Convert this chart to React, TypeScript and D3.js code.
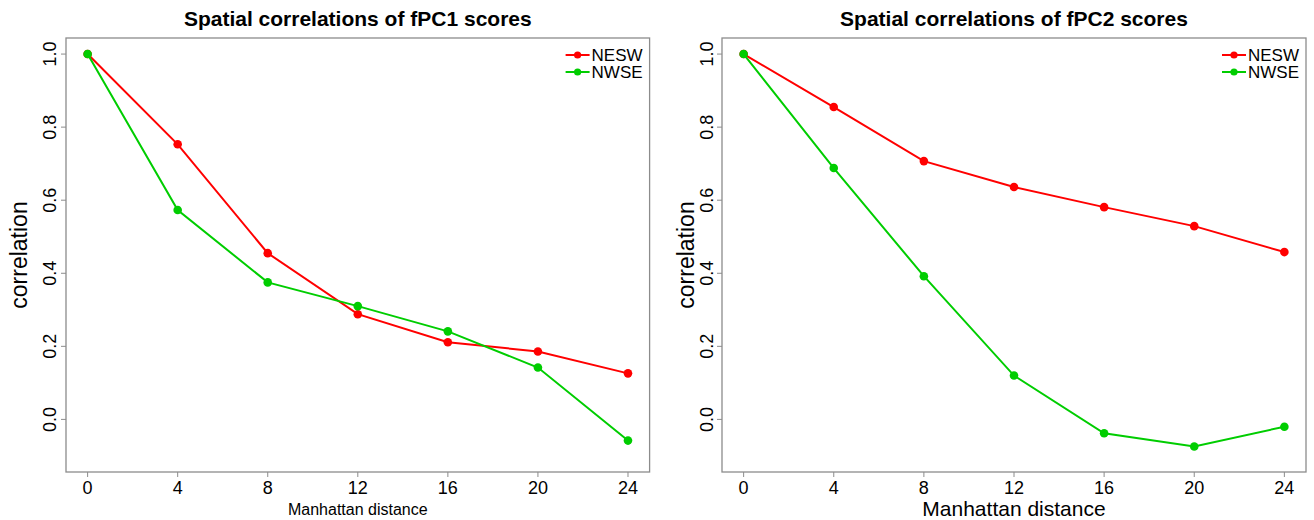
import React from "react";
import * as d3 from "d3";

const distances = [0, 4, 8, 12, 16, 20, 24];
const fpc1NESW = [1.0, 0.753, 0.455, 0.288, 0.211, 0.186, 0.126];
const fpc1NWSE = [1.0, 0.573, 0.375, 0.31, 0.241, 0.142, -0.058];
const fpc2NESW = [1.0, 0.855, 0.707, 0.636, 0.581, 0.529, 0.458];
const fpc2NWSE = [1.0, 0.688, 0.392, 0.12, -0.038, -0.074, -0.02];
const yTicks = [0.0, 0.2, 0.4, 0.6, 0.8, 1.0];
const xTicks = [0, 4, 8, 12, 16, 20, 24];
const seriesNames = ["NESW", "NWSE"];
const seriesColors = ["#ff0000", "#00cd00"];
const titles = ["Spatial correlations of fPC1 scores", "Spatial correlations of fPC2 scores"];

const FONT = "'Liberation Sans', Arial, Helvetica, sans-serif";

type PanelProps = {
  x0: number;
  x1: number;
  title: string;
  series: number[][];
  xTitleSize: number;
  yLabelX: number;
  yTitleX: number;
  xTitleY: number;
};

function Panel({ x0, x1, title, series, xTitleSize, yLabelX, yTitleX, xTitleY }: PanelProps) {
  const top = 38;
  const bottom = 472;
  const x = d3.scaleLinear().domain([-0.96, 24.96]).range([x0, x1]);
  const y = d3.scaleLinear().domain([-0.144, 1.044]).range([bottom, top]);
  const line = d3
    .line<number>()
    .x((_, i) => x(distances[i]))
    .y((d) => y(d));
  const cx = (x0 + x1) / 2;
  const axisColor = "#8c8c8c";
  return (
    <g>
      <text x={cx} y={26} textAnchor="middle" fontFamily={FONT} fontWeight="bold" fontSize={21} fill="#000">
        {title}
      </text>
      <rect x={x0} y={top} width={x1 - x0} height={bottom - top} fill="none" stroke={axisColor} strokeWidth={1.3} />
      {xTicks.map((t) => (
        <g key={"x" + t}>
          <line x1={x(t)} x2={x(t)} y1={bottom} y2={bottom + 5} stroke={axisColor} strokeWidth={1} />
          <text x={x(t)} y={494} textAnchor="middle" fontFamily={FONT} fontSize={18} fill="#000">
            {t}
          </text>
        </g>
      ))}
      {yTicks.map((t) => (
        <g key={"y" + t}>
          <line x1={x0 - 5} x2={x0} y1={y(t)} y2={y(t)} stroke={axisColor} strokeWidth={1} />
          <text
            transform={`translate(${yLabelX},${y(t)}) rotate(-90)`}
            textAnchor="middle"
            dy="0.35em"
            fontFamily={FONT}
            fontSize={18}
            fill="#000"
          >
            {t.toFixed(1)}
          </text>
        </g>
      ))}
      <text x={cx} y={xTitleY} textAnchor="middle" dy="0.35em" fontFamily={FONT} fontSize={xTitleSize} fill="#000">
        Manhattan distance
      </text>
      <text
        transform={`translate(${yTitleX},${(top + bottom) / 2}) rotate(-90)`}
        textAnchor="middle"
        dy="0.35em"
        fontFamily={FONT}
        fontSize={23}
        fill="#000"
      >
        correlation
      </text>
      {series.map((vals, si) => (
        <g key={"s" + si}>
          <path d={line(vals) || ""} fill="none" stroke={seriesColors[si]} strokeWidth={2} />
          {vals.map((v, i) => (
            <circle key={i} cx={x(distances[i])} cy={y(v)} r={4.3} fill={seriesColors[si]} />
          ))}
        </g>
      ))}
      {seriesNames.map((name, si) => {
        const ly = 55 + si * 17;
        const lx = x1 - 84;
        return (
          <g key={"l" + si}>
            <line x1={lx} x2={lx + 24} y1={ly} y2={ly} stroke={seriesColors[si]} strokeWidth={2} />
            <circle cx={lx + 12} cy={ly} r={3.6} fill={seriesColors[si]} />
            <text x={lx + 26} y={ly} dy="0.36em" fontFamily={FONT} fontSize={17} fill="#000">
              {name}
            </text>
          </g>
        );
      })}
    </g>
  );
}

export default function App() {
  return (
    <svg
      width={1314}
      height={520}
      style={{ position: "absolute", left: 0, top: 0, background: "#fff" }}
    >
      <rect x={0} y={0} width={1314} height={520} fill="#fff" />
      <Panel
        x0={66}
        x1={649.6}
        title={titles[0]}
        series={[fpc1NESW, fpc1NWSE]}
        xTitleSize={16}
        yLabelX={50}
        yTitleX={19}
        xTitleY={509}
      />
      <Panel
        x0={722}
        x1={1306}
        title={titles[1]}
        series={[fpc2NESW, fpc2NWSE]}
        xTitleSize={21}
        yLabelX={707}
        yTitleX={686}
        xTitleY={509}
      />
    </svg>
  );
}
